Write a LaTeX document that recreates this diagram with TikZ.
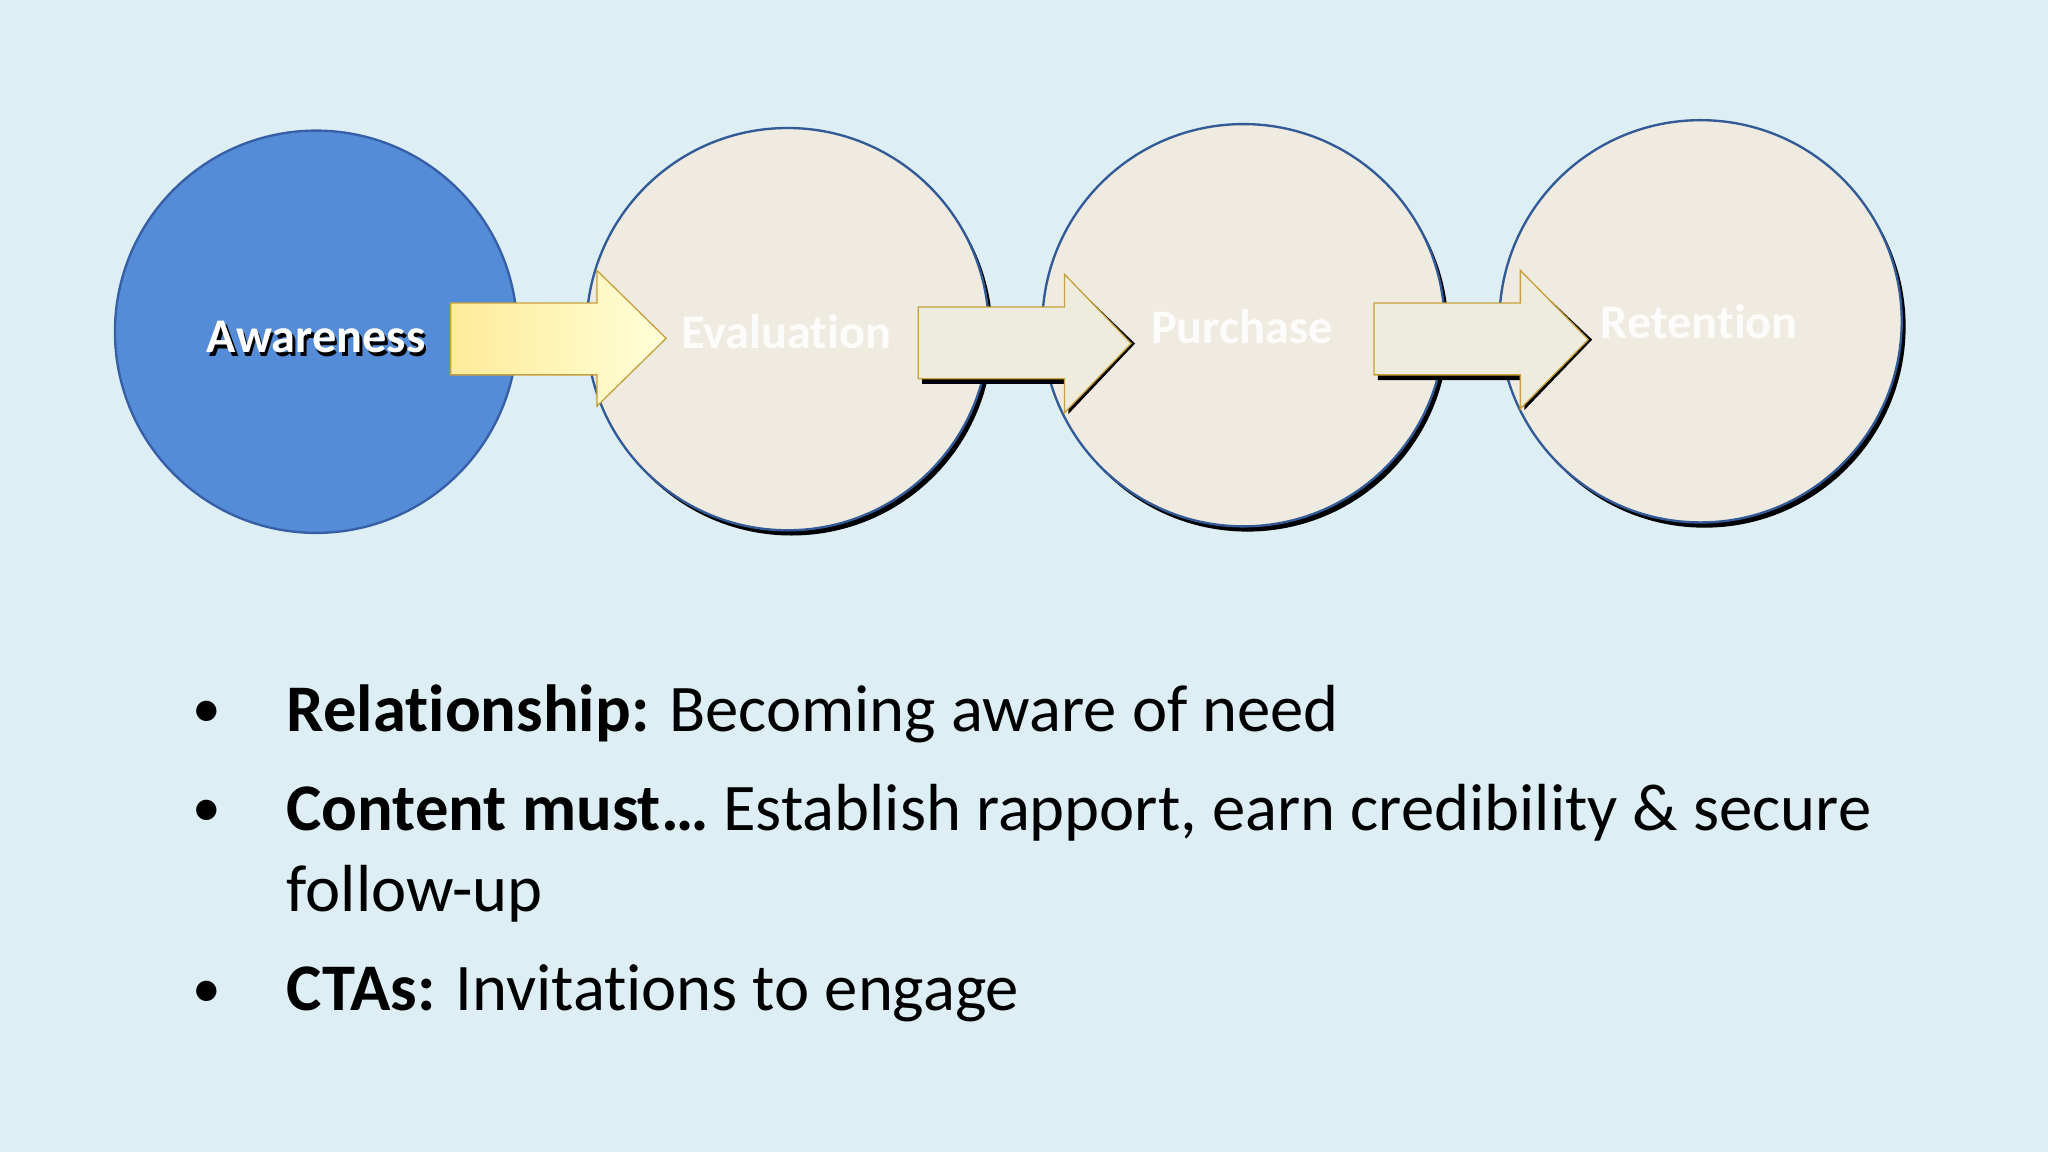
\documentclass[tikz,border=0pt]{standalone}
\usepackage{fontspec}
\setmainfont[RawFeature=-liga]{Carlito}
\begin{document}
\begin{tikzpicture}[x=1pt,y=-1pt,
  stage/.style={circle,draw=ring,line width=1.8pt,fill=cream,minimum size=308pt,inner sep=0pt},
  lbl/.style={text=white,font=\fontsize{37}{40}\selectfont\bfseries},
  bul/.style={anchor=base west,font=\fontsize{51}{58}\selectfont,text=black}]
\definecolor{bg}{RGB}{221,238,244}
\definecolor{cream}{RGB}{240,235,225}
\definecolor{ring}{RGB}{50,90,150}
\definecolor{blueA}{RGB}{85,140,215}
\definecolor{blueB}{RGB}{55,95,165}
\definecolor{arrowB}{RGB}{200,160,60}
\definecolor{arrowF}{RGB}{238,236,220}
\fill[bg] (0,0) rectangle (1568,882);
\useasboundingbox (0,0) rectangle (1568,882);
% circles with shadow
\foreach \x/\y in {603/252,952/249,1302/246}{
  \fill[black] (\x+3,\y+4) circle (154);
}
\node[stage,fill=blueA,draw=blueB] (aw) at (242,254) {};
\node[stage] (ev) at (603,252) {};
\node[stage] (pu) at (952,249) {};
\node[stage] (re) at (1302,246) {};
% arrows
\fill[left color=yellow!60!orange!40,right color=yellow!15!white,draw=arrowB,line width=1pt]
  (345,232) -- (457,232) -- (457,207) -- (510,259) -- (457,311) -- (457,287) -- (345,287) -- cycle;
\foreach \a/\h/\e/\t in {703/815/866/235,1052/1164/1216/232}{
  \fill[black] (\a+3,\t+4) -- (\h+3,\t+4) -- (\h+3,\t-21) -- (\e+3,\t+28) -- (\h+3,\t+82) -- (\h+3,\t+59) -- (\a+3,\t+59) -- cycle;
  \fill[arrowF,draw=arrowB,line width=1pt]
  (\a,\t) -- (\h,\t) -- (\h,\t-25) -- (\e,\t+28) -- (\h,\t+81) -- (\h,\t+55) -- (\a,\t+55) -- cycle;
}
% labels
\node[lbl,text=black] at (244,261) {Awareness};
\node[lbl] (awl) at (242,258) {Awareness};
\node[lbl,opacity=0.85] (evl) at (602,254) {Evaluation};
\node[lbl,opacity=0.85] (pul) at (951,250) {Purchase};
\node[lbl,opacity=0.85] (rel) at (1301,246) {Retention};
% bullets
\foreach \y in {557,633,771}{\node[bul,anchor=base,font=\fontsize{44}{50}\selectfont] at (158,\y) {•};}
\node[bul] (b1) at (216,560) {\textbf{Relationship:} Becoming aware of need};
\node[bul] (b2) at (216,636) {\textbf{Content must\dots} Establish rapport, earn credibility \& secure};
\node[bul] (b3) at (216,698) {follow-up};
\node[bul] (b4) at (216,774) {\textbf{CTAs:} Invitations to engage};
\end{tikzpicture}
\end{document}
